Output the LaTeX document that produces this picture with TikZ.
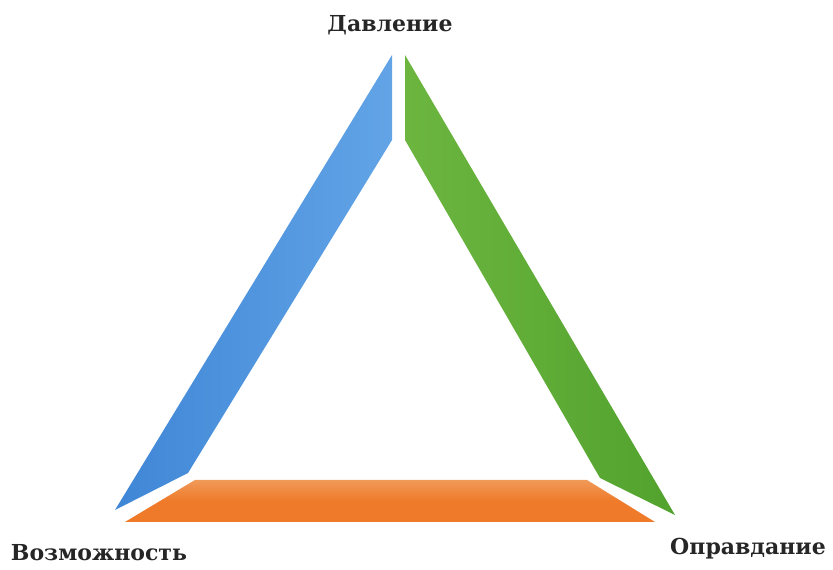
\documentclass[tikz,border=0pt]{standalone}
\usepackage{fontspec}
\setmainfont{DejaVu Serif}
\begin{document}
\begin{tikzpicture}[x=0.75pt,y=-0.75pt,
  lbl/.style={font=\bfseries\fontsize{16.5}{19}\selectfont, text=black!85, inner sep=0pt}]
\useasboundingbox (0,0) rectangle (833,570);
\definecolor{blueA}{HTML}{3F86D6}
\definecolor{blueB}{HTML}{62A4E6}
\definecolor{greenA}{HTML}{52A22E}
\definecolor{greenB}{HTML}{6CB640}
\definecolor{orangeA}{HTML}{EE7A2A}
\definecolor{orangeB}{HTML}{F09A58}
% blue side
\shade[left color=blueA, right color=blueB]
  (392,55) -- (115,510) -- (188,473) -- (392,140) -- cycle;
% green side
\shade[left color=greenB, right color=greenA]
  (405,55) -- (675,515) -- (600,478) -- (405,140) -- cycle;
% orange base
\shade[top color=orangeB, bottom color=orangeA, middle color=orangeA]
  (195,480) -- (587,480) -- (655,522) -- (125,522) -- cycle;
\node[lbl] (top) at (390,25) {Давление};
\node[lbl] (left) at (99,553) {Возможность};
\node[lbl] (right) at (748,549) {Оправдание};
\end{tikzpicture}
\end{document}
